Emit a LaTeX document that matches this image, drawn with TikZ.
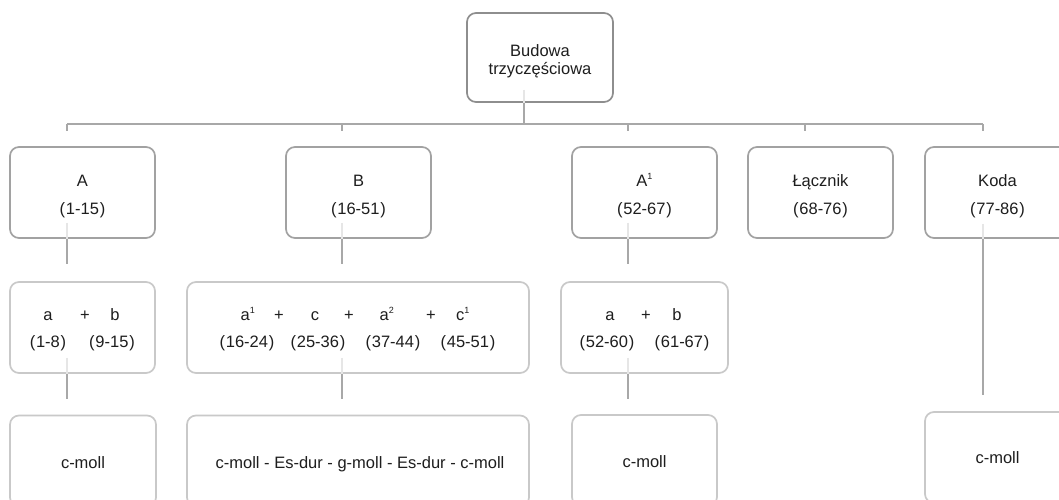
\documentclass[tikz,border=0pt]{standalone}
\usepackage{fontspec}
\setmainfont{Liberation Sans}
\definecolor{topc}{HTML}{8E8E8E}
\definecolor{rowa}{HTML}{A2A2A2}
\definecolor{rowb}{HTML}{C9C9C9}
\definecolor{connc}{HTML}{A8A8A8}
\definecolor{faintc}{HTML}{E6E6E6}
\definecolor{txtc}{HTML}{1E1E1E}
\newcommand{\pr}[1]{(\kern0.8pt#1\kern0.8pt)}
\newcommand{\sups}[1]{\textsuperscript{\fontsize{9}{9}\selectfont #1}}
\begin{document}
\begin{tikzpicture}[x=1pt,y=-1pt,
  boxbase/.style={line width=1.7pt, rounded corners=9pt, fill=white, inner sep=0pt, minimum height=91pt},
  topbox/.style={boxbase, draw=topc, minimum width=146pt, minimum height=89pt},
  boxone/.style={boxbase, draw=rowa, minimum width=145pt},
  boxtwo/.style={boxbase, draw=rowb},
  txt/.style={anchor=base, text=txtc, font=\fontsize{16.5}{19}\selectfont, inner sep=0pt},
  conn/.style={draw=connc, line width=1.8pt},
  faint/.style={draw=faintc, line width=1.6pt}]
\useasboundingbox (0,0) rectangle (1059,500);
\clip (0,0) rectangle (1059,500);
\fill[white] (0,0) rectangle (1059,500);

% ---------- top ----------
\node[topbox] (root) at (540,57.5) {};
\node[txt] (rt1) at (540,57) {Budowa};
\node[txt] (rt2) at (540,75) {trzyczęściowa};

% ---------- row 1 ----------
\node[boxone] (A)  at (82.5,192.5) {};
\node[boxone] (B)  at (358.5,192.5) {};
\node[boxone] (A1) at (644.5,192.5) {};
\node[boxone] (L)  at (820.5,192.5) {};
\node[boxone] (K)  at (997.5,192.5) {};

\node[txt] (At1) at (82.5,186) {A};
\node[txt] (At2) at (82.5,214) {\pr{1-15}};
\node[txt] (Bt1) at (358.5,186) {B};
\node[txt] (Bt2) at (358.5,214) {\pr{16-51}};
\node[txt] (A1t1) at (644.5,186) {A\sups{1}};
\node[txt] (A1t2) at (644.5,214) {\pr{52-67}};
\node[txt] (Lt1) at (820.5,186) {Łącznik};
\node[txt] (Lt2) at (820.5,214) {\pr{68-76}};
\node[txt] (Kt1) at (997.5,186) {Koda};
\node[txt] (Kt2) at (997.5,214) {\pr{77-86}};

% ---------- row 2 ----------
\node[boxtwo, minimum width=145pt] (ab)  at (82.5,327.5) {};
\node[boxtwo, minimum width=342pt] (big) at (358,327.5) {};
\node[boxtwo, minimum width=167pt] (ab2) at (644.5,327.5) {};

\node[txt] (s1) at (48,320) {a};
\node[txt] (s2) at (85,320) {+};
\node[txt] (s3) at (115,320) {b};
\node[txt] (s4) at (48,347) {\pr{1-8}};
\node[txt] (s5) at (112,347) {\pr{9-15}};

\node[txt] (u1) at (248,320) {a\sups{1}};
\node[txt] (u2) at (279,320) {+};
\node[txt] (u3) at (315,320) {c};
\node[txt] (u4) at (349,320) {+};
\node[txt] (u5) at (387,320) {a\sups{2}};
\node[txt] (u6) at (431,320) {+};
\node[txt] (u7) at (463,320) {c\sups{1}};
\node[txt] (u8) at (247,347) {\pr{16-24}};
\node[txt] (u9) at (318,347) {\pr{25-36}};
\node[txt] (u10) at (393,347) {\pr{37-44}};
\node[txt] (u11) at (468,347) {\pr{45-51}};

\node[txt] (v1) at (610,320) {a};
\node[txt] (v2) at (646,320) {+};
\node[txt] (v3) at (677,320) {b};
\node[txt] (v4) at (607,347) {\pr{52-60}};
\node[txt] (v5) at (682,347) {\pr{61-67}};

% ---------- row 3 ----------
\node[boxtwo, minimum width=146pt] (c1) at (83,461) {};
\node[boxtwo, minimum width=342pt] (c2) at (358,461) {};
\node[boxtwo, minimum width=145pt] (c3) at (644.5,460.5) {};
\node[boxtwo, minimum width=145pt] (c4) at (997.5,457.5) {};

\node[txt] (w1) at (83,468) {c-moll};
\node[txt] (w2) at (360,468) {c-moll - Es-dur - g-moll - Es-dur - c-moll};
\node[txt] (w3) at (644.5,467) {c-moll};
\node[txt] (w4) at (997.5,463) {c-moll};

% ---------- connectors ----------
\coordinate (bus) at (0,124);
\draw[faint] ([xshift=-16pt,yshift=13pt]root.south) -- ([xshift=-16pt]root.south);
\draw[conn] ([xshift=-16pt]root.south) -- ([xshift=-16pt]root.south |- bus);
\draw[conn] ([xshift=-15.5pt]A.north |- bus) -- ([xshift=-14.5pt]K.north |- bus);
\foreach \n/\s in {A/-15.5pt, B/-16.5pt, A1/-16.5pt, L/-15.5pt, K/-14.5pt}{
  \draw[conn] ([xshift=\s]\n.north |- bus) -- ([xshift=\s,yshift=-7pt]\n.north |- bus);
}
% row 1 -> row 2
\draw[faint] ([xshift=-15.5pt,yshift=16pt]A.south) -- ([xshift=-15.5pt]A.south);
\draw[faint] ([xshift=-16.5pt,yshift=16pt]B.south) -- ([xshift=-16.5pt]B.south);
\draw[faint] ([xshift=-16.5pt,yshift=16pt]A1.south) -- ([xshift=-16.5pt]A1.south);
\draw[faint] ([xshift=-14.5pt,yshift=15pt]K.south) -- ([xshift=-14.5pt]K.south);
\draw[conn] ([xshift=-15.5pt]A.south) -- ([xshift=-15.5pt,yshift=17pt]ab.north);
\draw[conn] ([xshift=-16.5pt]B.south) -- ([xshift=-16pt,yshift=17pt]big.north);
\draw[conn] ([xshift=-16.5pt]A1.south) -- ([xshift=-16.5pt,yshift=17pt]ab2.north);
\draw[conn] ([xshift=-14.5pt]K.south) -- ([xshift=-14.5pt,yshift=16pt]c4.north);
% row 2 -> row 3
\draw[faint] ([xshift=-15.5pt,yshift=16pt]ab.south) -- ([xshift=-15.5pt]ab.south);
\draw[faint] ([xshift=-16pt,yshift=16pt]big.south) -- ([xshift=-16pt]big.south);
\draw[faint] ([xshift=-16.5pt,yshift=16pt]ab2.south) -- ([xshift=-16.5pt]ab2.south);
\draw[conn] ([xshift=-15.5pt]ab.south) -- ([xshift=-16pt,yshift=16pt]c1.north);
\draw[conn] ([xshift=-16pt]big.south) -- ([xshift=-16pt,yshift=16pt]c2.north);
\draw[conn] ([xshift=-16.5pt]ab2.south) -- ([xshift=-16.5pt,yshift=15pt]c3.north);
\end{tikzpicture}
\end{document}
